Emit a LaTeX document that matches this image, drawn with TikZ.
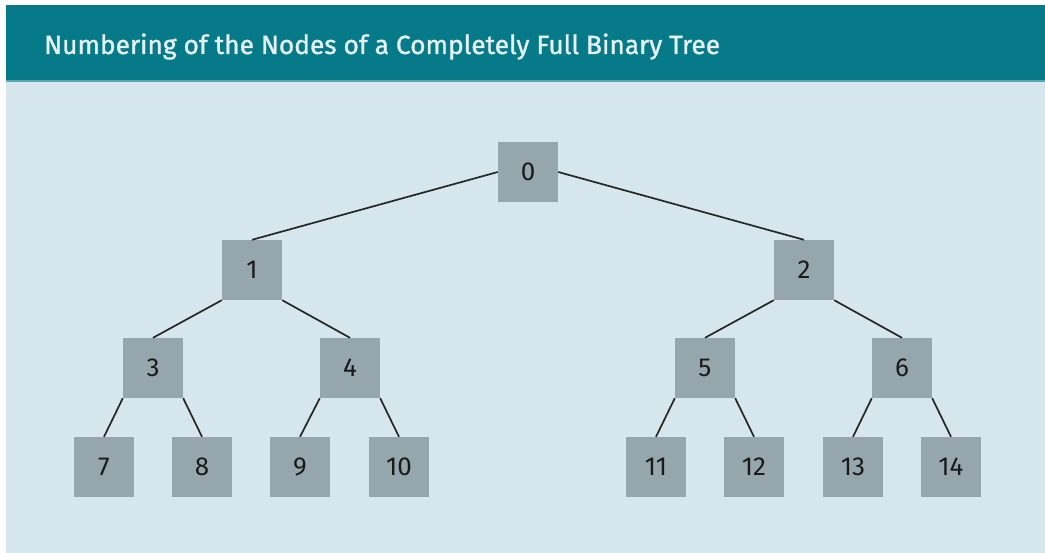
\documentclass[tikz,border=0pt]{standalone}
\usepackage{fontspec}
\setmainfont{Fira Sans}
\definecolor{headteal}{HTML}{067A88}
\definecolor{headline}{HTML}{5FA6B1}
\definecolor{titleink}{HTML}{E4F2F5}
\definecolor{panelbg}{HTML}{D5E7EC}
\definecolor{boxgrey}{HTML}{95A7AD}
\definecolor{edgeink}{HTML}{262626}
\definecolor{numink}{HTML}{1A1A1A}
\newfontfamily\titlefont[FakeBold=1.2]{Fira Sans}
\tikzset{
  tnode/.style={fill=boxgrey, minimum width=60pt, minimum height=60pt,
    inner sep=0pt, font=\fontsize{26}{30}\selectfont, text=numink},
  tedge/.style={draw=edgeink, line width=1.7pt}
}
\begin{document}
\begin{tikzpicture}[x=1pt, y=-1pt]
  % canvas and panel
  \useasboundingbox (0,0) rectangle (1045,553);
  \fill[white] (0,0) rectangle (1045,553);
  \fill[panelbg] (6,5) rectangle (1045,553);
  \fill[headteal] (6,5) rectangle (1045,80);
  \fill[headline] (6,80) rectangle (1045,82);
  \node[anchor=base west, text=titleink, inner sep=0pt,
        font=\titlefont\fontsize{26.3}{30}\selectfont]
        (title) at (44,54) {Numbering of the Nodes of a Completely Full Binary Tree};

  % tree nodes
  \node[tnode] (n0) at (528,172) {0};
  \node[tnode] (n1) at (252,270) {1};
  \node[tnode] (n2) at (804,270) {2};
  \node[tnode] (n3) at (153,368) {3};
  \node[tnode] (n4) at (350,368) {4};
  \node[tnode] (n5) at (705,368) {5};
  \node[tnode] (n6) at (902,368) {6};
  \node[tnode] (n7) at (104,467) {7};
  \node[tnode] (n8) at (202,467) {8};
  \node[tnode] (n9) at (300,467) {9};
  \node[tnode] (n10) at (399,467) {10};
  \node[tnode] (n11) at (656,467) {11};
  \node[tnode] (n12) at (754,467) {12};
  \node[tnode] (n13) at (853,467) {13};
  \node[tnode] (n14) at (951,467) {14};

  % connectors
  \draw[tedge] (n0.west) -- (n1.north);
  \draw[tedge] (n0.east) -- (n2.north);
  \draw[tedge] (n1.south west) -- (n3.north);
  \draw[tedge] (n1.south east) -- (n4.north);
  \draw[tedge] (n2.south west) -- (n5.north);
  \draw[tedge] (n2.south east) -- (n6.north);
  \draw[tedge] (n3.south west) -- (n7.north);
  \draw[tedge] (n3.south east) -- (n8.north);
  \draw[tedge] (n4.south west) -- (n9.north);
  \draw[tedge] (n4.south east) -- (n10.north);
  \draw[tedge] (n5.south west) -- (n11.north);
  \draw[tedge] (n5.south east) -- (n12.north);
  \draw[tedge] (n6.south west) -- (n13.north);
  \draw[tedge] (n6.south east) -- (n14.north);
\end{tikzpicture}
\end{document}
